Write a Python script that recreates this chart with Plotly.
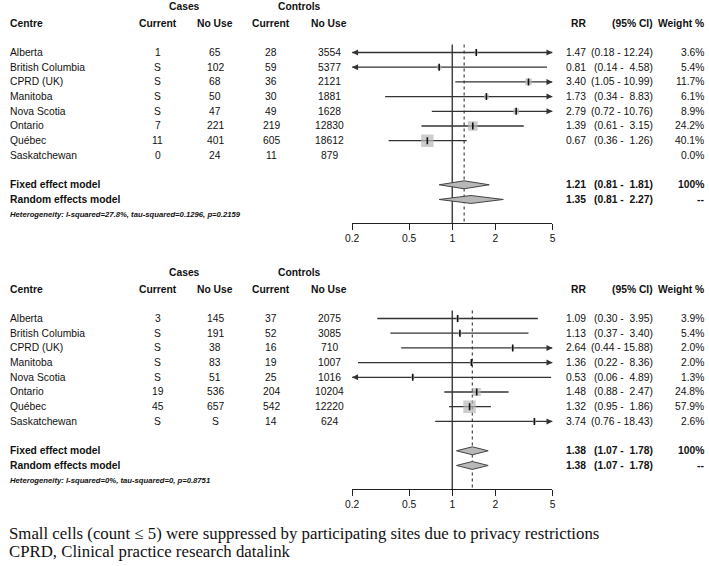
import math
import plotly.graph_objects as go

W, H = 709, 566

# ---------------- data ----------------
centres = ["Alberta", "British Columbia", "CPRD (UK)", "Manitoba", "Nova Scotia",
           "Ontario", "Québec", "Saskatchewan"]

# Panel A
cases_current_A = ["1", "S", "S", "S", "S", "7", "11", "0"]
cases_nouse_A = ["65", "102", "68", "50", "47", "221", "401", "24"]
ctrl_current_A = ["28", "59", "36", "30", "49", "219", "605", "11"]
ctrl_nouse_A = ["3554", "5377", "2121", "1881", "1628", "12830", "18612", "879"]
rr_A = [1.47, 0.81, 3.40, 1.73, 2.79, 1.39, 0.67, None]
lo_A = [0.18, 0.14, 1.05, 0.34, 0.72, 0.61, 0.36, None]
hi_A = [12.24, 4.58, 10.99, 8.83, 10.76, 3.15, 1.26, None]
weight_A = [3.6, 5.4, 11.7, 6.1, 8.9, 24.2, 40.1, 0.0]
fixed_A = [1.21, 0.81, 1.81]
random_A = [1.35, 0.81, 2.27]
het_A = "Heterogeneity: I-squared=27.8%, tau-squared=0.1296, p=0.2159"

# Panel B
cases_current_B = ["3", "S", "S", "S", "S", "19", "45", "S"]
cases_nouse_B = ["145", "191", "38", "83", "51", "536", "657", "S"]
ctrl_current_B = ["37", "52", "16", "19", "25", "204", "542", "14"]
ctrl_nouse_B = ["2075", "3085", "710", "1007", "1016", "10204", "12220", "624"]
rr_B = [1.09, 1.13, 2.64, 1.36, 0.53, 1.48, 1.32, 3.74]
lo_B = [0.30, 0.37, 0.44, 0.22, 0.06, 0.88, 0.95, 0.76]
hi_B = [3.95, 3.40, 15.88, 8.36, 4.89, 2.47, 1.86, 18.43]
weight_B = [3.9, 5.4, 2.0, 2.0, 1.3, 24.8, 57.9, 2.6]
fixed_B = [1.38, 1.07, 1.78]
random_B = [1.38, 1.07, 1.78]
het_B = "Heterogeneity: I-squared=0%, tau-squared=0, p=0.8751"

tick_vals = [0.2, 0.5, 1, 2, 5]
tick_text = ["0.2", "0.5", "1", "2", "5"]
XLIM = [0.2, 5]
NULL_VALUE = 1

footnotes = ["Small cells (count \u2264 5) were suppressed by participating sites due to privacy restrictions",
             "CPRD, Clinical practice research datalink"]

# ---------------- style ----------------
FONT = "Liberation Sans, Arial, sans-serif"
FS = 10.3
TXT = "#111111"
LINE = "#333333"
GREY = "#B8B8B8"
ROW_FIXED, ROW_RANDOM, ROW_HET = 9, 10, 11
ROW_HEADER, ROW_GROUP = -2.0, -3.1
ROW_TOP, ROW_AXIS = -0.55, 11.6
YRANGE = [11.6, -3.571]

fig = go.Figure()
annotations = []


def px(x):
    return x / W


def txt(x, yref, r, s, anchor="center", size=FS, family=FONT):
    annotations.append(dict(x=px(x), xref="paper", y=r, yref=yref, text=s,
                            showarrow=False, xanchor=anchor, yanchor="middle",
                            borderpad=0, borderwidth=0,
                            font=dict(size=size, family=family, color=TXT)))


def fmt_ci(lo, hi):
    return ("(%.2f - %5.2f)" % (lo, hi)).replace(" ", "\u00a0")


def panel(xa, ya, cc, cn, kc, kn, rr, lo, hi, wt, fixed, rand, het):
    yref = ya
    xref = xa
    # headers
    txt(180, yref, ROW_GROUP, "<b>Cases</b>")
    txt(297, yref, ROW_GROUP, "<b>Controls</b>")
    txt(3, yref, ROW_HEADER, "<b>Centre</b>", "left")
    txt(153, yref, ROW_HEADER, "<b>Current</b>")
    txt(211, yref, ROW_HEADER, "<b>No Use</b>")
    txt(268, yref, ROW_HEADER, "<b>Current</b>")
    txt(327, yref, ROW_HEADER, "<b>No Use</b>")
    txt(587, yref, ROW_HEADER, "<b>RR</b>", "right")
    txt(655, yref, ROW_HEADER, "<b>(95% CI)</b>", "right")
    txt(707, yref, ROW_HEADER, "<b>Weight %</b>", "right")
    for i, name in enumerate(centres):
        txt(3, yref, i, name, "left")
        txt(153, yref, i, cc[i])
        txt(211, yref, i, cn[i])
        txt(268, yref, i, kc[i])
        txt(327, yref, i, kn[i])
        if rr[i] is not None:
            txt(587, yref, i, "%.2f" % rr[i], "right")
            txt(655, yref, i, fmt_ci(lo[i], hi[i]), "right")
        txt(707, yref, i, "%.1f%%" % wt[i], "right")
    # pooled rows
    txt(3, yref, ROW_FIXED, "<b>Fixed effect model</b>", "left")
    txt(3, yref, ROW_RANDOM, "<b>Random effects model</b>", "left")
    txt(587, yref, ROW_FIXED, "<b>%.2f</b>" % fixed[0], "right")
    txt(655, yref, ROW_FIXED, "<b>%s</b>" % fmt_ci(fixed[1], fixed[2]), "right")
    txt(707, yref, ROW_FIXED, "<b>100%</b>", "right")
    txt(587, yref, ROW_RANDOM, "<b>%.2f</b>" % rand[0], "right")
    txt(655, yref, ROW_RANDOM, "<b>%s</b>" % fmt_ci(rand[1], rand[2]), "right")
    txt(707, yref, ROW_RANDOM, "<b>--</b>", "right")
    txt(3, yref, ROW_HET, "<b><i>%s</i></b>" % het, "left", size=7.7)

    # reference lines
    fig.add_trace(go.Scatter(x=[NULL_VALUE, NULL_VALUE], y=[ROW_TOP, ROW_AXIS], mode="lines",
                             line=dict(color="#444444", width=1.5), xaxis=xa, yaxis=ya,
                             hoverinfo="skip"))
    fig.add_trace(go.Scatter(x=[fixed[0], fixed[0]], y=[ROW_TOP, ROW_AXIS], mode="lines",
                             line=dict(color="#444444", width=1.2, dash="3px,3px"),
                             xaxis=xa, yaxis=ya, hoverinfo="skip"))

    # CI lines
    xs, ys = [], []
    for i in range(len(centres)):
        if rr[i] is None:
            continue
        l = max(lo[i], XLIM[0])
        h = min(hi[i], XLIM[1])
        xs += [l, h, None]
        ys += [i, i, None]
        if hi[i] > XLIM[1]:
            annotations.append(dict(x=math.log10(XLIM[1]), y=i, xref=xref, yref=yref,
                                    ax=math.log10(XLIM[1]) - 0.04, ay=i,
                                    axref=xref, ayref=yref, text="", showarrow=True,
                                    arrowhead=2, arrowsize=1, arrowwidth=1.2,
                                    arrowcolor=LINE))
        if lo[i] < XLIM[0]:
            annotations.append(dict(x=math.log10(XLIM[0]), y=i, xref=xref, yref=yref,
                                    ax=math.log10(XLIM[0]) + 0.04, ay=i,
                                    axref=xref, ayref=yref, text="", showarrow=True,
                                    arrowhead=2, arrowsize=1, arrowwidth=1.2,
                                    arrowcolor=LINE))
    fig.add_trace(go.Scatter(x=xs, y=ys, mode="lines", line=dict(color=LINE, width=1.3),
                             xaxis=xa, yaxis=ya, hoverinfo="skip"))

    # squares
    wmax = max(wt)
    idx = [i for i in range(len(centres)) if rr[i] is not None]
    fig.add_trace(go.Scatter(
        x=[rr[i] for i in idx], y=idx, mode="markers",
        marker=dict(symbol="square", color=GREY,
                    size=[max(3.5, 12.5 * math.sqrt(wt[i] / wmax)) for i in idx],
                    line=dict(width=0)),
        xaxis=xa, yaxis=ya, hoverinfo="skip"))
    fig.add_trace(go.Scatter(
        x=[rr[i] for i in idx], y=idx, mode="markers",
        marker=dict(symbol="line-ns", size=5, line=dict(color="#111111", width=1.6)),
        xaxis=xa, yaxis=ya, hoverinfo="skip"))

    # diamonds
    hh = 0.27
    for r, (est, l, h) in ((ROW_FIXED, fixed), (ROW_RANDOM, rand)):
        fig.add_trace(go.Scatter(x=[l, est, h, est, l], y=[r, r - hh, r, r + hh, r],
                                 mode="lines", fill="toself", fillcolor=GREY,
                                 line=dict(color="#444444", width=1),
                                 xaxis=xa, yaxis=ya, hoverinfo="skip"))


panel("x", "y", cases_current_A, cases_nouse_A, ctrl_current_A, ctrl_nouse_A,
      rr_A, lo_A, hi_A, weight_A, fixed_A, random_A, het_A)
panel("x2", "y2", cases_current_B, cases_nouse_B, ctrl_current_B, ctrl_nouse_B,
      rr_B, lo_B, hi_B, weight_B, fixed_B, random_B, het_B)

for j, line in enumerate(footnotes):
    annotations.append(dict(x=px(2), xref="paper", y=1 - (533 + 18 * j) / H, yref="paper",
                            text=line, showarrow=False, xanchor="left", yanchor="middle",
                            borderpad=0, borderwidth=0,
                            font=dict(size=16.8, family="Liberation Serif, Times New Roman, serif",
                                      color="#111111")))

xdom = [350 / W, 553.3 / W]
xcommon = dict(type="log", range=[math.log10(XLIM[0]), math.log10(XLIM[1])], domain=xdom,
               showline=True, linecolor="#222222", linewidth=1, ticks="outside", ticklen=6,
               tickwidth=1, tickcolor="#222222", tickvals=tick_vals, ticktext=tick_text,
               showgrid=False, zeroline=False, fixedrange=True,
               tickfont=dict(size=FS, family=FONT, color=TXT))
ycommon = dict(range=YRANGE, visible=False, showgrid=False, zeroline=False, fixedrange=True)

fig.update_layout(
    width=W, height=H, margin=dict(l=0, r=0, t=0, b=0),
    paper_bgcolor="white", plot_bgcolor="white", showlegend=False,
    font=dict(family=FONT, size=FS, color=TXT),
    xaxis=dict(anchor="y", **xcommon),
    xaxis2=dict(anchor="y2", **xcommon),
    yaxis=dict(domain=[1 - 223 / H, 1], anchor="x", **ycommon),
    yaxis2=dict(domain=[1 - 489 / H, 1 - 266 / H], anchor="x2", **ycommon),
    annotations=annotations,
)

fig.write_html("out.html", config={"displayModeBar": False},
               post_script="document.body.style.margin='0';document.body.style.overflow='hidden';")
